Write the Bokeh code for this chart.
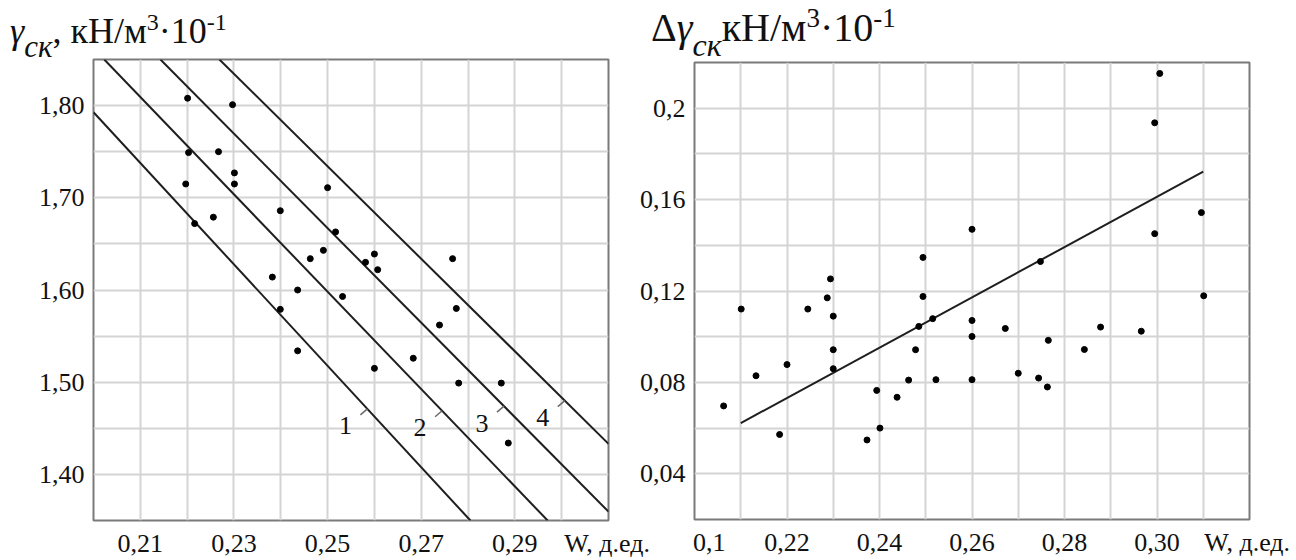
from bokeh.plotting import figure
from bokeh.layouts import row, column
from bokeh.models import FixedTicker, CustomJSTickFormatter, Range1d, Div
from bokeh.embed import file_html
from bokeh.resources import INLINE
from bokeh.core.properties import value

SERIF = "Liberation Serif"
INK = "#111111"

# ---------------- Left chart: dry unit weight vs moisture ----------------
w_left = [0.2201, 0.2297, 0.2203, 0.2267, 0.2301, 0.2197, 0.2301, 0.2500, 0.2399, 0.2256,
          0.2216, 0.2517, 0.2491, 0.2463, 0.2581, 0.2600, 0.2607, 0.2382, 0.2436, 0.2532,
          0.2399, 0.2775, 0.2767, 0.2739, 0.2436, 0.2683, 0.2600, 0.2780, 0.2871, 0.2886]
gamma_left = [1.808, 1.801, 1.749, 1.750, 1.727, 1.715, 1.715, 1.711, 1.686, 1.679,
              1.672, 1.663, 1.643, 1.634, 1.630, 1.639, 1.622, 1.614, 1.600, 1.593,
              1.579, 1.580, 1.634, 1.562, 1.534, 1.526, 1.515, 1.499, 1.499, 1.434]
# boundary lines 1..4 (end points)
line_names = ["1", "2", "3", "4"]
line_w = [[0.2000, 0.2805], [0.2023, 0.2970], [0.2143, 0.3100], [0.2269, 0.3100]]
line_g = [[1.7928, 1.3500], [1.8500, 1.3500], [1.8500, 1.3596], [1.8500, 1.4332]]
line_label_g = [1.471, 1.469, 1.474, 1.480]

left_x_ticks = [0.21, 0.23, 0.25, 0.27, 0.29, 0.3097]
left_x_labels = ["0,21", "0,23", "0,25", "0,27", "0,29", "W, д.ед."]
left_y_ticks = [1.40, 1.50, 1.60, 1.70, 1.80]
left_y_labels = ["1,40", "1,50", "1,60", "1,70", "1,80"]
left_x_grid = [0.21, 0.22, 0.23, 0.24, 0.25, 0.26, 0.27, 0.28, 0.29, 0.30]
left_y_grid = [1.40, 1.45, 1.50, 1.55, 1.60, 1.65, 1.70, 1.75, 1.80]

# ---------------- Right chart: increment vs moisture ----------------
w_right = [0.2063, 0.2101, 0.2133, 0.2184, 0.2200, 0.2245, 0.2287, 0.2300, 0.2294, 0.2300,
           0.2300, 0.2373, 0.2394, 0.2401, 0.2438, 0.2463, 0.2478, 0.2485, 0.2494, 0.2494,
           0.2515, 0.2522, 0.2600, 0.2600, 0.2600, 0.2600, 0.2672, 0.2700, 0.2744, 0.2748,
           0.2763, 0.2765, 0.2843, 0.2878, 0.2966, 0.2995, 0.2995, 0.3006, 0.3096, 0.3101]
d_right = [0.0697, 0.1121, 0.0829, 0.0572, 0.0878, 0.1121, 0.1170, 0.1090, 0.1253, 0.0943,
           0.0860, 0.0548, 0.0765, 0.0600, 0.0735, 0.0810, 0.0943, 0.1045, 0.1176, 0.1347,
           0.1079, 0.0812, 0.1470, 0.1071, 0.1001, 0.0812, 0.1036, 0.0840, 0.0819, 0.1329,
           0.0780, 0.0984, 0.0944, 0.1042, 0.1024, 0.1936, 0.1451, 0.2152, 0.1543, 0.1179]
trend_w = [0.21, 0.31]
trend_d = [0.0622, 0.1722]

right_x_ticks = [0.2032, 0.22, 0.24, 0.26, 0.28, 0.30, 0.3195]
right_x_labels = ["0,1", "0,22", "0,24", "0,26", "0,28", "0,30", "W, д.ед."]
right_y_ticks = [0.04, 0.08, 0.12, 0.16, 0.20]
right_y_labels = ["0,04", "0,08", "0,12", "0,16", "0,2"]
right_x_grid = [0.21, 0.22, 0.23, 0.24, 0.25, 0.26, 0.27, 0.28, 0.29, 0.30, 0.31]
right_y_grid = [0.04, 0.06, 0.08, 0.10, 0.12, 0.14, 0.16, 0.18, 0.20]


def make_fig(width, height, xr, yr, left, right, top, bottom):
    p = figure(width=width, height=height, x_range=Range1d(*xr), y_range=Range1d(*yr),
               output_backend="svg", toolbar_location=None,
               min_border_left=left, min_border_right=right,
               min_border_top=top, min_border_bottom=bottom)
    p.background_fill_color = "white"
    p.border_fill_color = None
    p.outline_line_color = "#7a7a7a"
    p.outline_line_width = 2
    for ax in (p.xaxis[0], p.yaxis[0]):
        ax.axis_line_color = None
        ax.major_tick_in = 0
        ax.major_tick_out = 0
        ax.minor_tick_line_color = None
        ax.major_label_text_font = SERIF
        ax.major_label_text_font_size = "26px"
        ax.major_label_text_color = INK
    p.xaxis[0].major_label_standoff = 8
    p.yaxis[0].major_label_standoff = 9
    for g in (p.xgrid[0], p.ygrid[0]):
        g.grid_line_color = "#d4d4d4"
        g.grid_line_width = 2
    return p


def set_ticks(axis, grid, positions, labels, grid_positions):
    axis.ticker = FixedTicker(ticks=positions)
    axis.formatter = CustomJSTickFormatter(args=dict(pos=positions, lab=labels), code="""
        let best = 0, d = Infinity;
        for (let i = 0; i < pos.length; i++) {
            const e = Math.abs(pos[i] - tick);
            if (e < d) { d = e; best = i; }
        }
        return lab[best];
    """)
    grid.ticker = FixedTicker(ticks=grid_positions)


def title_div(width, height, left, top, delta, size, sub_size, sup_size, sub_drop, sup_rise):
    sub = (f'<span style="position:relative;top:{sub_drop}px;font-size:{sub_size}px;'
           f'font-style:italic;">ск</span>')
    sup3 = f'<span style="position:relative;top:-{sup_rise}px;font-size:{sup_size}px;">3</span>'
    sup1 = f'<span style="position:relative;top:-{sup_rise}px;font-size:{sup_size}px;">-1</span>'
    if delta:
        head = "Δ" + '<i>γ</i>' + sub
    else:
        head = '<i>γ</i>' + sub + ", "
    html = (f'<div style="position:absolute;left:{left}px;top:{top}px;white-space:nowrap;'
            f'font-family:\'{SERIF}\';font-size:{size}px;line-height:{size}px;color:{INK};">'
            f'{head}кН/м{sup3}·10{sup1}</div>')
    return Div(text=html, width=width, height=height, margin=(0, 0, -6, 0),
               styles={"position": "relative", "overflow": "visible"})


# ---- left figure ----
L_LEFT, L_TOP, L_FW, L_FH = 93, 59, 515, 463
L_W = 652
p1 = make_fig(L_W, 560 - L_TOP + 6, (0.20, 0.31), (1.35, 1.85), L_LEFT, L_W - L_LEFT - L_FW, 6,
              560 - L_TOP - L_FH)
set_ticks(p1.xaxis[0], p1.xgrid[0], left_x_ticks, left_x_labels, left_x_grid)
set_ticks(p1.yaxis[0], p1.ygrid[0], left_y_ticks, left_y_labels, left_y_grid)

for xs, ys in zip(line_w, line_g):
    p1.line(xs, ys, line_color="#1e1e1e", line_width=2)
p1.scatter(w_left, gamma_left, size=6, fill_color="black", line_color="black")

# line labels with short leader strokes
px_x = L_FW / 0.11
px_y = L_FH / 0.50
att_x = []
for (x0, x1), (y0, y1), g in zip(line_w, line_g, line_label_g):
    t = (g - y0) / (y1 - y0)
    att_x.append(x0 + t * (x1 - x0))
lead_x1 = [x - 7 / px_x for x in att_x]
lead_y1 = [g - 6 / px_y for g in line_label_g]
p1.segment(x0=att_x, y0=line_label_g, x1=lead_x1, y1=lead_y1, line_color="#6a6a6a", line_width=1.5)
p1.text(x=att_x, y=line_label_g, text=line_names, x_offset=-22, y_offset=17,
        text_font=value(SERIF), text_font_size="26px", text_color=INK,
        text_align="center", text_baseline="middle")

div1 = title_div(L_W, L_TOP, 10, 13, False, 36, 31, 24, 14, 13)

# ---- right figure ----
R_START = 636
R_LEFT_ABS, R_TOP, R_FW, R_FH = 694, 62, 555, 457
R_W = 1296 - R_START
p2 = make_fig(R_W, 560 - R_TOP + 6, (0.20, 0.32), (0.02, 0.22), R_LEFT_ABS - R_START,
              R_W - (R_LEFT_ABS - R_START) - R_FW, 6, 560 - R_TOP - R_FH)
set_ticks(p2.xaxis[0], p2.xgrid[0], right_x_ticks, right_x_labels, right_x_grid)
set_ticks(p2.yaxis[0], p2.ygrid[0], right_y_ticks, right_y_labels, right_y_grid)
p2.line(trend_w, trend_d, line_color="#1e1e1e", line_width=2)
p2.scatter(w_right, d_right, size=6, fill_color="black", line_color="black")

div2 = title_div(R_W, R_TOP, 651 - R_START, 8, True, 40, 32, 27, 15, 14)

col1 = column(div1, p1)
col2 = column(div2, p2)
col2.margin = (0, 0, 0, -(L_W - R_START))
layout = row(col1, col2)
open("out.html", "w").write(file_html(layout, INLINE))
